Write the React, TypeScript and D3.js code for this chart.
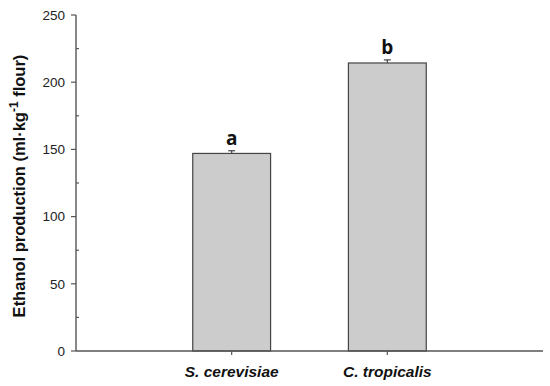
import React from 'react'
import * as d3 from 'd3'

const strains = ['S. cerevisiae', 'C. tropicalis']
const ethanol = [147, 214.3]
const errors = [2, 2.3]
const letters = ['a', 'b']
const yTicks = [0, 50, 100, 150, 200, 250]
const yMinor = [25, 75, 125, 175, 225]

const width = 550
const height = 386
const left = 76
const right = 543
const top = 15
const bottom = 351

const x = d3.scaleLinear().domain([0, strains.length + 1]).range([left, right])
const y = d3.scaleLinear().domain([0, 250]).range([bottom, top])
const barW = (x(1) - x(0)) / 2

const axisColor = '#555'
const font = 'Arial, "Liberation Sans", sans-serif'

export default function App() {
  return (
    <svg width={width} height={height} style={{ position: 'absolute', left: 0, top: 0 }} fontFamily={font}>
      {strains.map((s, i) => {
        const cx = x(i + 1)
        return (
          <g key={s}>
            <rect
              x={cx - barW / 2}
              y={y(ethanol[i])}
              width={barW}
              height={y(0) - y(ethanol[i])}
              fill="#cccccc"
              stroke="#444"
              strokeWidth={1.2}
            />
            <line x1={cx} x2={cx} y1={y(ethanol[i])} y2={y(ethanol[i] + errors[i])} stroke="#444" strokeWidth={1.2} />
            <line x1={cx - 3.5} x2={cx + 3.5} y1={y(ethanol[i] + errors[i])} y2={y(ethanol[i] + errors[i])} stroke="#444" strokeWidth={1.2} />
            <text x={cx} y={y(ethanol[i] + errors[i]) - 6} textAnchor="middle" fontSize={19} fontWeight="bold" fill="#111"
              fontFamily='"Open Sans", "DejaVu Sans", sans-serif'>
              {letters[i]}
            </text>
            <line x1={cx} x2={cx} y1={bottom} y2={bottom + 4} stroke={axisColor} strokeWidth={1.2} />
            <text x={cx} y={bottom + 26} textAnchor="middle" fontSize={15.5} fontWeight="bold" fontStyle="italic" fill="#111">
              {s}
            </text>
          </g>
        )
      })}
      <line x1={left} x2={left} y1={top} y2={bottom} stroke={axisColor} strokeWidth={1.4} />
      <line x1={left} x2={right} y1={bottom} y2={bottom} stroke={axisColor} strokeWidth={1.4} />
      {yTicks.map(t => (
        <g key={t}>
          <line x1={left - 5} x2={left} y1={y(t)} y2={y(t)} stroke={axisColor} strokeWidth={1.2} />
          <text x={left - 11} y={y(t)} dy="0.35em" textAnchor="end" fontSize={13.5} fill="#222">
            {t}
          </text>
        </g>
      ))}
      {yMinor.map(t => (
        <line key={t} x1={left} x2={left + 3} y1={y(t)} y2={y(t)} stroke={axisColor} strokeWidth={1.2} />
      ))}
      <text
        transform={`translate(25,${(top + bottom) / 2 + 3}) rotate(-90)`}
        textAnchor="middle"
        fontSize={16.5}
        fontWeight="bold"
        fill="#111"
      >
        Ethanol production (ml·kg<tspan dy={-7} fontSize={12}>-1</tspan>
        <tspan dy={7}> flour)</tspan>
      </text>
    </svg>
  )
}
